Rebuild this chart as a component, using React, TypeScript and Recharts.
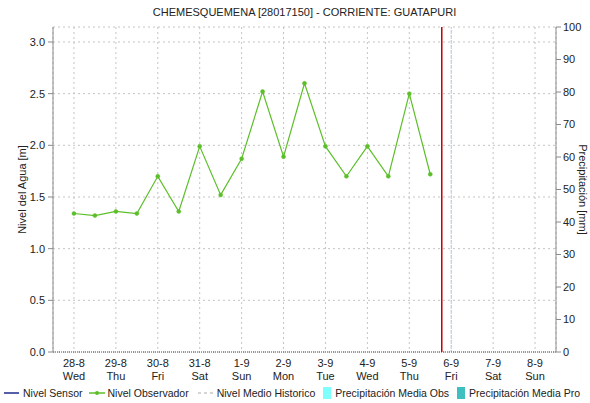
import { ComposedChart, Line, XAxis, YAxis, CartesianGrid, ReferenceLine, Legend, Label } from 'recharts'

// one entry per calendar day (x axis uses half-day steps, day i sits at 2*i)
const dayLabels = ['28-8', '29-8', '30-8', '31-8', '1-9', '2-9', '3-9', '4-9', '5-9', '6-9', '7-9', '8-9']
const weekDays = ['Wed', 'Thu', 'Fri', 'Sat', 'Sun', 'Mon', 'Tue', 'Wed', 'Thu', 'Fri', 'Sat', 'Sun']

// Nivel Observador, two readings per day starting 28-8
const nivelObservador = [1.34, 1.32, 1.36, 1.34, 1.7, 1.36, 1.99, 1.52, 1.87, 2.52, 1.89, 2.6, 1.99, 1.7, 1.99, 1.7, 2.5, 1.72]

const levelTicks = [0, 0.5, 1, 1.5, 2, 2.5, 3]
const precipTicks = [0, 10, 20, 30, 40, 50, 60, 70, 80, 90, 100]

const nowMark = 17.55 // current time (red line), in half-days
const forecastStart = 18

const legendItems = [
  { label: 'Nivel Sensor', kind: 'line', color: '#1c2a8a' },
  { label: 'Nivel Observador', kind: 'dot', color: '#5cbf2a' },
  { label: 'Nivel Medio Historico', kind: 'dash', color: '#c8c8c8' },
  { label: 'Precipitación Media Obs', kind: 'box', color: '#80ffff' },
  { label: 'Precipitación Media Pro', kind: 'box', color: '#3fc0c0' },
]
const legendGap = [4, 6, 9, 8, 8]

const chartData = nivelObservador.map((v, i) => ({ t: i, obs: v, precip: null }))
const dayTicks = dayLabels.map((_, i) => i * 2)

const font = '"Liberation Sans", Arial, sans-serif'

function DayTick(props: any) {
  const { x, y, payload } = props
  const i = Math.round(payload.value / 2)
  return (
    <g transform={`translate(${x},${y})`}>
      <text x={0} y={7} textAnchor="middle" fontSize={11} fill="#222" fontFamily={font}>{dayLabels[i]}</text>
      <text x={0} y={20} textAnchor="middle" fontSize={11} fill="#222" fontFamily={font}>{weekDays[i]}</text>
    </g>
  )
}

function LegendContent() {
  return (
    <div style={{ display: 'flex', alignItems: 'center', height: 16, fontFamily: font, fontSize: 10.5, color: '#222', whiteSpace: 'nowrap', width: 590 }}>
      {legendItems.map((it, i) => (
        <div key={it.label} style={{ marginLeft: legendGap[i], display: 'flex', alignItems: 'center', flexShrink: 0 }}>
          <svg width={it.kind === 'box' ? 8 : 16} height={14} style={{ marginRight: it.kind === 'box' ? 4 : 3 }}>
            {it.kind === 'line' && <line x1={0} x2={15} y1={7} y2={7} stroke={it.color} strokeWidth={1.5} />}
            {it.kind === 'dot' && (
              <>
                <line x1={0} x2={16} y1={7} y2={7} stroke={it.color} strokeWidth={1.5} />
                <circle cx={8} cy={7} r={2} fill={it.color} />
              </>
            )}
            {it.kind === 'dash' && <line x1={0} x2={16} y1={7} y2={7} stroke={it.color} strokeWidth={1.5} strokeDasharray="3 3" />}
            {it.kind === 'box' && <rect x={0} y={1} width={8} height={12} fill={it.color} />}
          </svg>
          <span>{it.label}</span>
        </div>
      ))}
    </div>
  )
}

export default function App() {
  return (
    <div style={{ position: 'absolute', left: 0, top: 0, width: 590, height: 403, background: '#fff', fontFamily: font }}>
      <div style={{ position: 'absolute', left: 53, top: 6, width: 503, textAlign: 'center', fontSize: 11, color: '#222', fontFamily: font }}>
        CHEMESQUEMENA [28017150] - CORRIENTE: GUATAPURI
      </div>
      <ComposedChart width={590} height={403} data={chartData} margin={{ top: 27, right: 0, left: 0, bottom: 21 }}>
        <CartesianGrid yAxisId="left" stroke="#c4c4c4" strokeDasharray="2 3" />
        <XAxis
          dataKey="t"
          type="number"
          domain={[-1, 23]}
          ticks={dayTicks}
          interval={0}
          height={30}
          tick={<DayTick />}
          tickLine={false}
          axisLine={{ stroke: '#444', strokeDasharray: '1 1' }}
        />
        <XAxis xAxisId="top" orientation="top" type="number" domain={[-1, 23]} height={0} tick={false} tickLine={false} axisLine={{ stroke: '#8a8a8a' }} />
        <YAxis
          yAxisId="left"
          width={53}
          domain={[0, 3.145]}
          allowDataOverflow
          ticks={levelTicks}
          tickFormatter={(v: number) => v.toFixed(1)}
          tick={{ fill: '#222', fontSize: 11, fontFamily: font }}
          tickSize={5}
          tickMargin={3}
          axisLine={{ stroke: '#8a8a8a' }}
          tickLine={{ stroke: '#8a8a8a' }}
        >
          <Label value="Nivel del Agua [m]" angle={-90} position="insideLeft" offset={22} style={{ textAnchor: 'middle', fontSize: 11, fill: '#222', fontFamily: font }} />
        </YAxis>
        <YAxis
          yAxisId="right"
          orientation="right"
          type="number"
          width={34}
          domain={[0, 100]}
          allowDataOverflow
          ticks={precipTicks}
          interval={0}
          tick={{ fill: '#222', fontSize: 11, fontFamily: font }}
          tickSize={5}
          tickMargin={2}
          axisLine={{ stroke: '#8a8a8a' }}
          tickLine={{ stroke: '#8a8a8a' }}
        >
          <Label value="Precipitación [mm]" angle={90} position="insideRight" offset={7} style={{ textAnchor: 'middle', fontSize: 11, fill: '#222', fontFamily: font }} />
        </YAxis>
        <ReferenceLine yAxisId="left" x={forecastStart} stroke="#9cc3e6" strokeDasharray="2 3" />
        <ReferenceLine yAxisId="left" x={nowMark} stroke="#c00000" strokeWidth={1.5} />
        <Line yAxisId="right" dataKey="precip" stroke="#3fc0c0" dot={false} isAnimationActive={false} />
        <Line
          yAxisId="left"
          type="linear"
          dataKey="obs"
          stroke="#5cbf2a"
          strokeWidth={1.2}
          dot={{ r: 2, fill: '#5cbf2a', stroke: '#5cbf2a', strokeWidth: 0.5 }}
          isAnimationActive={false}
        />
        <Legend
          layout="horizontal"
          verticalAlign="middle"
          align="center"
          content={<LegendContent />}
          wrapperStyle={{ position: 'absolute', top: 385, left: 0, width: 590 }}
        />
      </ComposedChart>
    </div>
  )
}
